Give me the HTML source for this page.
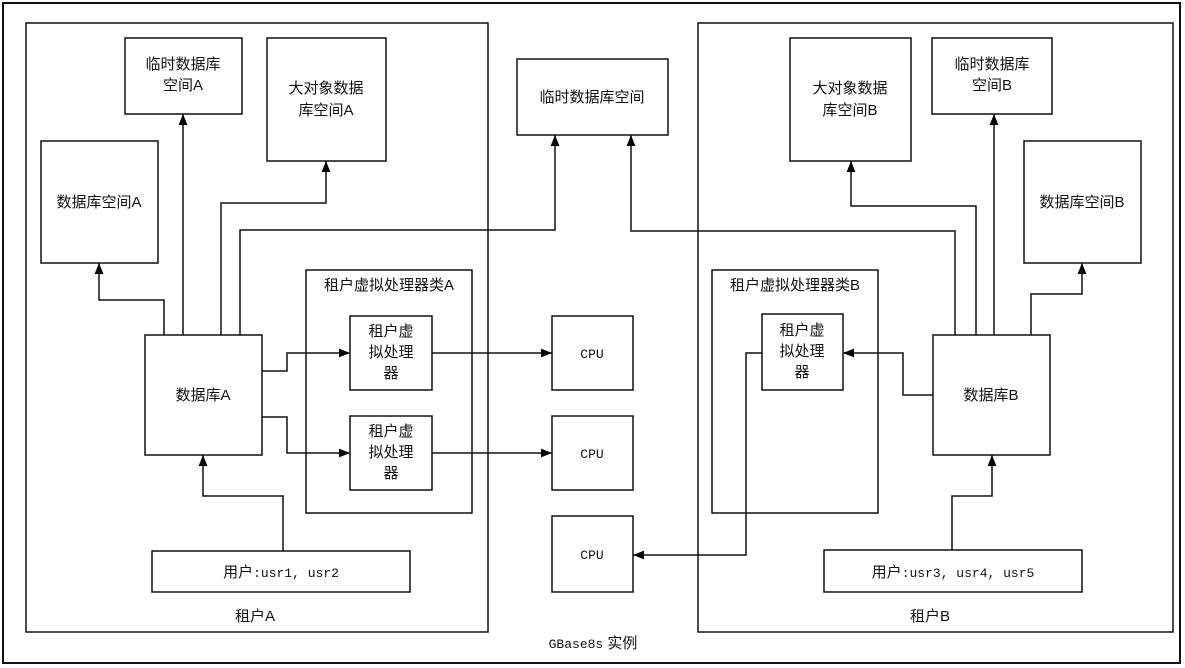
<!DOCTYPE html>
<html><head><meta charset="utf-8"><style>
html,body{margin:0;padding:0;background:#fff;}
svg{display:block;}
text{font-family:"Liberation Sans","Noto Sans CJK SC","WenQuanYi Zen Hei",sans-serif;font-size:15px;fill:#111;text-anchor:middle;}
.m{font-family:"Liberation Mono","Noto Sans CJK SC",monospace;font-size:13px;}
</style></head><body>
<svg width="1185" height="668" viewBox="0 0 1185 668" xmlns="http://www.w3.org/2000/svg">
<defs><marker id="a" viewBox="0 0 10 10" refX="10" refY="5" markerWidth="11" markerHeight="11" markerUnits="userSpaceOnUse" orient="auto"><path d="M0,1 L10,5 L0,9 z" fill="#000"/></marker></defs>
<g fill="none" stroke="#111" stroke-width="1.5">
<rect x="3" y="3" width="1177" height="660" stroke-width="2"/>
<rect x="26" y="23" width="462" height="609"/>
<rect x="698" y="23" width="475" height="609"/>
<rect x="125" y="38" width="117" height="76"/>
<rect x="267" y="38" width="119" height="123"/>
<rect x="41" y="141" width="117" height="122"/>
<rect x="306" y="270" width="166" height="243"/>
<rect x="350" y="316" width="82" height="74"/>
<rect x="350" y="416" width="82" height="74"/>
<rect x="145" y="335" width="117" height="120"/>
<rect x="152" y="551" width="258" height="41"/>
<rect x="552" y="316" width="81" height="74"/>
<rect x="552" y="416" width="81" height="74"/>
<rect x="552" y="516" width="81" height="76"/>
<rect x="517" y="59" width="151" height="76"/>
<rect x="790" y="38" width="121" height="123"/>
<rect x="932" y="38" width="120" height="76"/>
<rect x="1024" y="141" width="117" height="122"/>
<rect x="712" y="270" width="166" height="243"/>
<rect x="762" y="314" width="81" height="76"/>
<rect x="933" y="335" width="117" height="120"/>
<rect x="824" y="550" width="258" height="42"/>
</g>
<g fill="none" stroke="#111" stroke-width="1.5" marker-end="url(#a)">
<polyline points="164,335 164,300 99,300 99,263"/>
<polyline points="183,335 183,114"/>
<polyline points="221,335 221,203 326,203 326,161"/>
<polyline points="240,335 240,230 555,230 555,135"/>
<polyline points="262,371 287,371 287,353 350,353"/>
<polyline points="262,417 287,417 287,453 350,453"/>
<polyline points="432,353 552,353"/>
<polyline points="432,453 552,453"/>
<polyline points="283,551 283,496 203,496 203,455"/>
<polyline points="955,335 955,231 631,231 631,135"/>
<polyline points="976,335 976,206 851,206 851,161"/>
<polyline points="994,335 994,114"/>
<polyline points="1031,335 1031,294 1082,294 1082,263"/>
<polyline points="933,395 903,395 903,353 843,353"/>
<polyline points="762,353 746,353 746,555 633,555"/>
<polyline points="952,550 952,496 992,496 992,455"/>
</g>
<text x="183" y="69">临时数据库</text><text x="183" y="90">空间A</text>
<text x="326" y="93">大对象数据</text><text x="326" y="115">库空间A</text>
<text x="99" y="207">数据库空间A</text>
<text x="389" y="290">租户虚拟处理器类A</text>
<text x="391" y="336">租户虚</text><text x="391" y="357">拟处理</text><text x="391" y="378">器</text>
<text x="391" y="436">租户虚</text><text x="391" y="457">拟处理</text><text x="391" y="478">器</text>
<text x="203" y="400">数据库A</text>
<text x="281" y="577">用户<tspan class="m">:usr1, usr2</tspan></text>
<text x="255" y="621">租户A</text>
<text class="m" x="592" y="358">CPU</text>
<text class="m" x="592" y="458">CPU</text>
<text class="m" x="592" y="559">CPU</text>
<text x="592" y="102">临时数据库空间</text>
<text x="850" y="93">大对象数据</text><text x="850" y="115">库空间B</text>
<text x="992" y="69">临时数据库</text><text x="992" y="90">空间B</text>
<text x="1082" y="207">数据库空间B</text>
<text x="795" y="290">租户虚拟处理器类B</text>
<text x="802" y="335">租户虚</text><text x="802" y="356">拟处理</text><text x="802" y="377">器</text>
<text x="991" y="400">数据库B</text>
<text x="953" y="577">用户<tspan class="m">:usr3, usr4, usr5</tspan></text>
<text x="930" y="621">租户B</text>
<text x="593" y="648"><tspan class="m">GBase8s</tspan> 实例</text>
</svg>
</body></html>
